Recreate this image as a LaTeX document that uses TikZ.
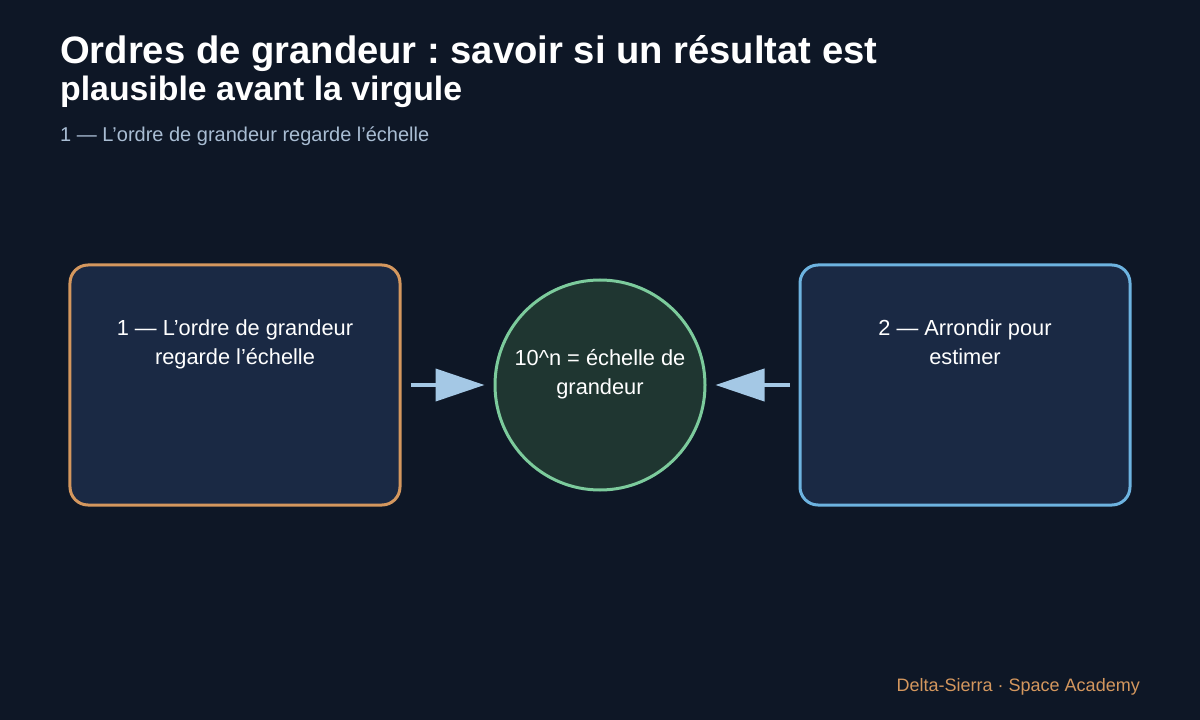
\documentclass[tikz,border=0pt]{standalone}
\usepackage{fontspec}
\setmainfont{Liberation Sans}
\usetikzlibrary{arrows.meta,positioning}
\definecolor{fond}{HTML}{0E1726}
\definecolor{boite}{HTML}{1A2944}
\definecolor{orange}{HTML}{D4975E}
\definecolor{bleu}{HTML}{6DB3E0}
\definecolor{vert}{HTML}{7CCB9C}
\definecolor{rond}{HTML}{1F3631}
\definecolor{fleche}{HTML}{A4C8E5}
\definecolor{gris}{HTML}{A9BDD3}
\frenchspacing
\begin{document}
\begin{tikzpicture}[x=1bp,y=-1bp,
  boitebox/.style={draw,line width=3bp,fill=boite,rounded corners=18bp,minimum width=330bp,minimum height=240bp},
  texte/.style={text=white,font=\fontsize{21.8bp}{29bp}\selectfont,align=center,inner sep=0pt},
  fl/.style={draw=fleche,line width=4bp,-{Triangle[length=49bp,width=32bp]},shorten <=9bp,shorten >=9bp}]
                \fill[fond] (0,0) rectangle (1200,720);
                \useasboundingbox (0,0) rectangle (1200,720);
                \node[anchor=base west,inner sep=0pt,text=white,font=\bfseries\fontsize{38.2bp}{40bp}\selectfont] (titre1) at (60,64) {Ordres de grandeur : savoir si un résultat est};
                \node[anchor=base west,inner sep=0pt,text=white,font=\bfseries\fontsize{33.8bp}{36bp}\selectfont] (titre2) at (60,101) {plausible avant la virgule};
                \node[anchor=base west,inner sep=0pt,text=gris,font=\fontsize{20bp}{24bp}\selectfont] (soustitre) at (60,142) {1 — L’ordre de grandeur regarde l’échelle};
                \node[boitebox,draw=orange] (gauche) at (235,385) {};
                \node[boitebox,draw=bleu] (droite) at (965,385) {};
                \node[circle,draw=vert,line width=3bp,fill=rond,minimum size=210bp] (echelle) at (600,385) {};
                \node[texte,anchor=north] (tgauche) at (235,320) {1 — L’ordre de grandeur\\regarde l’échelle};
                \node[texte,anchor=north] (tdroite) at (965,320) {2 — Arrondir pour\\estimer};
                \node[texte] (techelle) at (600,374) {10\^{}n = échelle de\\grandeur};
                \draw[fl] (gauche) -- (echelle);
                \draw[fl] (droite) -- (echelle);
                \node[anchor=base east,inner sep=0pt,text=orange,font=\fontsize{18bp}{22bp}\selectfont] (pied) at (1140,691) {Delta-Sierra · Space Academy};
            \end{tikzpicture}
\end{document}
